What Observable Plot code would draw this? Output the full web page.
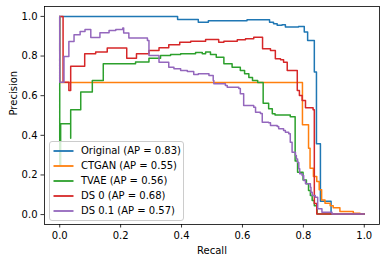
<!DOCTYPE html>
<html><head><meta charset="utf-8">
<script src="https://cdn.jsdelivr.net/npm/d3@7"></script>
<script src="https://cdn.jsdelivr.net/npm/@observablehq/plot@0.6"></script>
<style>
body{margin:0;background:#fff;}
#wrap{position:relative;width:386px;height:262px;font-family:"DejaVu Sans",sans-serif;color:#000;}
#legend{position:absolute;left:49px;top:141px;width:135px;height:80px;background:rgba(255,255,255,0.8);border:1px solid #cccccc;border-radius:3px;box-sizing:border-box;}
.row{position:absolute;left:0;height:14px;width:130px;font-size:10px;line-height:14px;white-space:nowrap;}
.sw{position:absolute;left:3px;top:0;}
.lbl{position:absolute;left:31px;top:0;}
</style>
</head><body>
<div id="wrap"><div id="chart"></div><div id="legend"></div></div>
<script>
const seriesNames = ["Original", "CTGAN", "TVAE", "DS 0", "DS 0.1"];
const apValues = [0.83, 0.55, 0.56, 0.68, 0.57];
const palette = ["#1f77b4", "#ff7f0e", "#2ca02c", "#d62728", "#9467bd"];
const xTicks = [0, 0.2, 0.4, 0.6, 0.8, 1.0];
const yTicks = [0, 0.2, 0.4, 0.6, 0.8, 1.0];

const recallOriginal = [0, 0.387, 0.455, 0.488, 0.615, 0.689, 0.702, 0.714, 0.730, 0.741, 0.784, 0.803, 0.814, 0.836, 0.843, 0.856, 0.891, 1.0];
const precisionOriginal = [1.0, 0.985, 0.971, 0.978, 0.983, 0.971, 0.963, 0.955, 0.958, 0.946, 0.949, 0.921, 0.879, 0.719, 0.357, 0.067, 0.0035, 0.0035];

const recallCTGAN = [0, 0, 0.797, 0.817, 0.822, 0.833, 0.844, 0.852, 0.860, 0.871, 0.888, 0.898, 0.920, 0.964, 0.986, 1.0];
const precisionCTGAN = [1.0, 0.667, 0.453, 0.335, 0.234, 0.192, 0.167, 0.125, 0.074, 0.057, 0.045, 0.035, 0.015, 0.007, 0.0035, 0.0035];

const recallTVAE = [0, 0, 0.003, 0.036, 0.036, 0.069, 0.107, 0.143, 0.249, 0.293, 0.331, 0.364, 0.397, 0.446, 0.468, 0.479, 0.495, 0.514, 0.539, 0.566, 0.593, 0.607, 0.621, 0.633, 0.650, 0.668, 0.686, 0.698, 0.707, 0.757, 0.773, 0.781, 0.799, 0.810, 0.817, 0.823, 0.829, 0.836, 0.845, 1.0];
const precisionTVAE = [1.0, 0.25, 0.458, 0.385, 0.529, 0.618, 0.677, 0.761, 0.770, 0.789, 0.803, 0.808, 0.812, 0.818, 0.812, 0.820, 0.808, 0.794, 0.761, 0.744, 0.727, 0.711, 0.692, 0.677, 0.667, 0.562, 0.534, 0.509, 0.503, 0.494, 0.27, 0.214, 0.175, 0.155, 0.121, 0.096, 0.071, 0.045, 0.0035, 0.0035];

const recallDS0 = [0, 0.011, 0.030, 0.036, 0.082, 0.118, 0.156, 0.220, 0.252, 0.293, 0.326, 0.358, 0.394, 0.430, 0.479, 0.522, 0.539, 0.583, 0.610, 0.637, 0.666, 0.692, 0.708, 0.725, 0.735, 0.747, 0.780, 0.787, 0.796, 0.807, 0.832, 0.836, 0.844, 1.0];
const precisionDS0 = [1.0, 0.668, 0.626, 0.749, 0.812, 0.820, 0.840, 0.789, 0.812, 0.828, 0.842, 0.857, 0.869, 0.875, 0.884, 0.869, 0.875, 0.882, 0.887, 0.895, 0.837, 0.828, 0.786, 0.781, 0.769, 0.727, 0.626, 0.601, 0.576, 0.539, 0.529, 0.056, 0.0035, 0.0035];

const recallDS01 = [0, 0, 0.014, 0.030, 0.047, 0.067, 0.083, 0.102, 0.132, 0.162, 0.184, 0.207, 0.210, 0.227, 0.288, 0.293, 0.326, 0.358, 0.375, 0.397, 0.419, 0.440, 0.455, 0.490, 0.504, 0.506, 0.544, 0.550, 0.588, 0.593, 0.604, 0.637, 0.643, 0.659, 0.665, 0.686, 0.692, 0.714, 0.719, 0.735, 0.741, 0.752, 0.757, 0.763, 0.774, 0.777, 0.781, 0.785, 0.788, 0.796, 0.801, 0.807, 0.823, 0.825, 0.829, 0.839, 0.847, 0.861, 0.894, 1.0];
const precisionDS01 = [1.0, 0.668, 0.798, 0.874, 0.908, 0.924, 0.934, 0.894, 0.917, 0.929, 0.934, 0.942, 0.916, 0.891, 0.879, 0.803, 0.769, 0.744, 0.736, 0.727, 0.722, 0.707, 0.711, 0.702, 0.677, 0.660, 0.652, 0.643, 0.636, 0.610, 0.551, 0.542, 0.517, 0.510, 0.466, 0.463, 0.449, 0.444, 0.433, 0.424, 0.416, 0.408, 0.365, 0.315, 0.298, 0.281, 0.263, 0.231, 0.206, 0.197, 0.172, 0.155, 0.138, 0.113, 0.096, 0.087, 0.029, 0.012, 0.0035, 0.0035];

const recalls = [recallOriginal, recallCTGAN, recallTVAE, recallDS0, recallDS01];
const precisions = [precisionOriginal, precisionCTGAN, precisionTVAE, precisionDS0, precisionDS01];

const seriesRows = recalls.map((rs, i) => rs.map((r, j) => ({series: seriesNames[i], recall: r, precision: precisions[i][j]})));

const chart = Plot.plot({
  width: 386,
  height: 262,
  marginLeft: 44,
  marginRight: 7,
  marginTop: 6,
  marginBottom: 38,
  style: {fontFamily: "DejaVu Sans, sans-serif", fontSize: "10px", color: "#000", background: "#fff", overflow: "visible"},
  x: {domain: [-0.05, 1.05]},
  y: {domain: [-0.05, 1.05]},
  marks: [
    ...seriesRows.map((rows, i) => Plot.line(rows, {x: "recall", y: "precision", curve: "step-after", stroke: palette[i], strokeWidth: 1.5})),
    Plot.frame({stroke: "#000", strokeWidth: 0.8}),
    Plot.axisX({ticks: xTicks, tickSize: 3.5, tickPadding: 4, strokeWidth: 0.8, tickFormat: d => d.toFixed(1), label: null, fontSize: 10}),
    Plot.axisY({ticks: yTicks, tickSize: 3.5, tickPadding: 3.5, strokeWidth: 0.8, tickFormat: d => d.toFixed(1), label: null, fontSize: 10}),
    Plot.text(["Recall"], {frameAnchor: "bottom", dy: 26, text: d => d, fontSize: 10, lineAnchor: "middle"}),
    Plot.text(["Precision"], {frameAnchor: "left", dx: -31, rotate: -90, text: d => d, fontSize: 10, lineAnchor: "middle"})
  ]
});
document.getElementById("chart").appendChild(chart);

const legend = document.getElementById("legend");
const svgNS = "http://www.w3.org/2000/svg";
seriesNames.forEach((name, i) => {
  const row = document.createElement("div");
  row.className = "row";
  row.style.top = (2 + i * 14.9) + "px";
  const sw = document.createElementNS(svgNS, "svg");
  sw.setAttribute("class", "sw");
  sw.setAttribute("width", "22");
  sw.setAttribute("height", "14");
  const ln = document.createElementNS(svgNS, "line");
  ln.setAttribute("x1", "0.5");
  ln.setAttribute("x2", "20.5");
  ln.setAttribute("y1", "7");
  ln.setAttribute("y2", "7");
  ln.setAttribute("stroke", palette[i]);
  ln.setAttribute("stroke-width", "1.8");
  sw.appendChild(ln);
  const lbl = document.createElement("div");
  lbl.className = "lbl";
  lbl.textContent = `${name} (AP = ${apValues[i].toFixed(2)})`;
  row.appendChild(sw);
  row.appendChild(lbl);
  legend.appendChild(row);
});
</script>
</body></html>
